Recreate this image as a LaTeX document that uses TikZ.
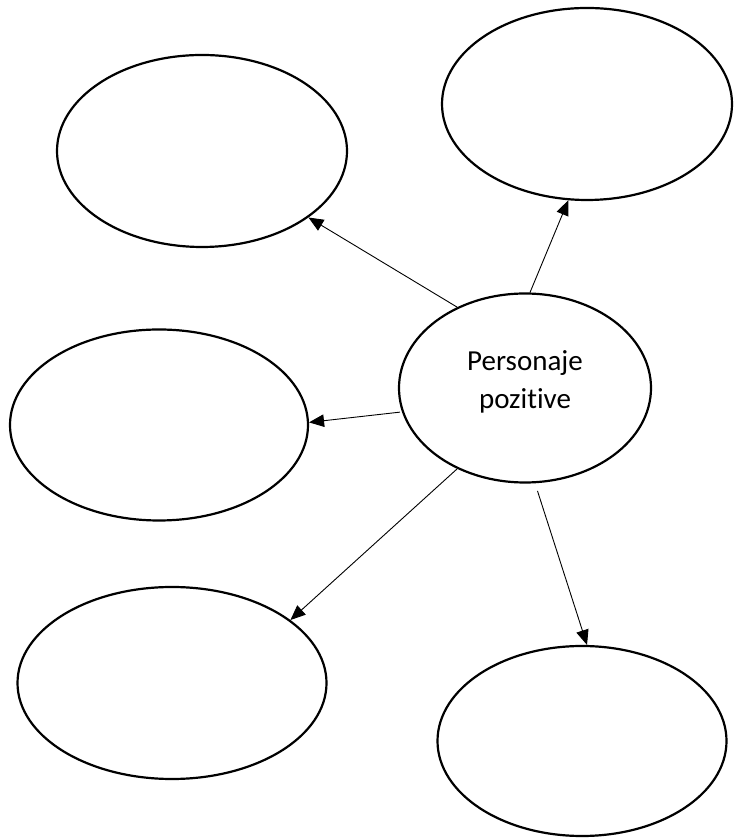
\documentclass[tikz,border=0pt]{standalone}
\usepackage{fontspec}
\setmainfont[Ligatures=NoCommon]{Carlito}
\usetikzlibrary{shapes.geometric,arrows.meta}
\tikzset{
  bubble/.style={draw=black, line width=2.2pt, ellipse, inner sep=0pt, fill=white},
  link/.style={draw=black, line width=0.9pt, -{Triangle[length=15pt,width=12.5pt]}}
}
\begin{document}
\begin{tikzpicture}[x=1pt,y=1pt]
\useasboundingbox (0,0) rectangle (733,840);
\fill[white] (0,0) rectangle (733,840);
\node[bubble, minimum width=290pt, minimum height=192pt] (tl) at (202,689) {};
\node[bubble, minimum width=290pt, minimum height=192pt] (tr) at (587,736) {};
\node[bubble, minimum width=298pt, minimum height=191pt] (ml) at (159,415) {};
\node[bubble, minimum width=309pt, minimum height=192pt] (bl) at (172,157) {};
\node[bubble, minimum width=289pt, minimum height=190pt] (br) at (582,99) {};
\node[bubble, minimum width=252pt, minimum height=189pt,
      label={[yshift=6.5pt, align=center, font=\fontsize{29pt}{38pt}\selectfont]center:Personaje\\pozitive}] (c) at (525,452) {};
\draw[link] (c.130) -- (tl.-32);
\draw[link] (c.87) -- (tr.-101.5);
\draw[link, shorten <=2pt] (c.191) -- (ml.1.2);
\draw[link] (c.230) -- (bl.28);
\draw[link, shorten <=8pt] (c.-84.5) -- (br.87.7);
\end{tikzpicture}
\end{document}
